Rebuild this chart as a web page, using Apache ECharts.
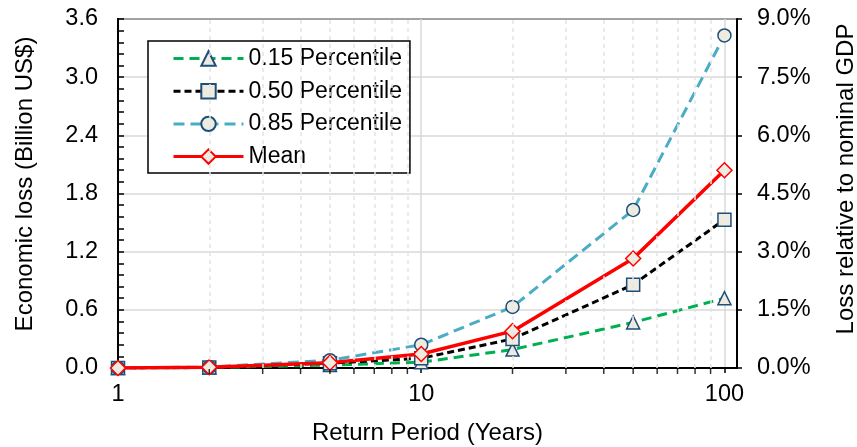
<!DOCTYPE html>
<html>
<head>
<meta charset="utf-8">
<script src="https://cdn.jsdelivr.net/npm/echarts@6/dist/echarts.min.js"></script>
<style>html,body{margin:0;padding:0;background:#fff;}#c{width:857px;height:447px;}</style>
</head>
<body>
<div id="c"></div>
<script>
// Data
const returnPeriods = [1, 2, 5, 10, 20, 50, 100];
const p15 = [0, 0.005, 0.03, 0.06, 0.19, 0.47, 0.72];
const p50 = [0, 0.005, 0.05, 0.10, 0.30, 0.86, 1.53];
const p85 = [0, 0.01, 0.08, 0.24, 0.63, 1.63, 3.43];
const meanLoss = [0, 0.008, 0.055, 0.145, 0.38, 1.13, 2.04];
const seriesNames = ['0.15 Percentile', '0.50 Percentile', '0.85 Percentile', 'Mean'];
const minorXValues = [2, 3, 4, 5, 6, 7, 8, 9, 20, 30, 40, 50, 60, 70, 80, 90];

const FONT = "'Liberation Sans', Arial, sans-serif";
const fill = '#EEECE1';
const markerBorder = '#1F4E79';

function pairs(vals) { return returnPeriods.map((x, i) => [x, vals[i]]); }

const chart = echarts.init(document.getElementById('c'), null, {renderer: 'canvas'});
chart.setOption({
  animation: false,
  backgroundColor: '#fff',
  textStyle: {fontFamily: FONT},
  grid: {left: 118, right: 120, top: 19, bottom: 79, show: true, borderColor: '#000', borderWidth: 2, backgroundColor: 'transparent', outerBoundsMode: 'none', containLabel: false},
  legend: {
    data: seriesNames,
    orient: 'vertical',
    left: 148, top: 41,
    borderColor: '#000', borderWidth: 1.5,
    padding: [6, 8, 5, 24],
    itemWidth: 70, itemHeight: 18, itemGap: 9.7,
    lineStyle: {width: 3},
    textStyle: {fontSize: 23, fontFamily: FONT, color: '#000'},
    backgroundColor: '#fff'
  },
  xAxis: {
    type: 'log', min: 1, max: 110, logBase: 10,
    name: 'Return Period (Years)', nameLocation: 'middle', nameGap: 53,
    nameTextStyle: {fontSize: 24, fontFamily: FONT, color: '#000'},
    axisLine: {lineStyle: {color: '#000', width: 2}},
    axisTick: {show: true, inside: false, length: 5, lineStyle: {color: '#000', width: 1.5}},
    axisLabel: {fontSize: 23.5, fontFamily: FONT, color: '#000', margin: 15, showMaxLabel: false},
    splitLine: {show: true, lineStyle: {color: '#d9d9d9', width: 1.5}},
    minorTick: {show: false}
  },
  yAxis: [{
    type: 'value', min: 0, max: 3.6, interval: 0.6,
    name: 'Economic loss (Billion US$)', nameLocation: 'middle', nameRotate: 90, nameGap: 81,
    nameTextStyle: {fontSize: 24, fontFamily: FONT, color: '#000', padding: [0, 0, 0, 19]},
    axisLine: {show: true, lineStyle: {color: '#000', width: 2}},
    axisTick: {show: true, inside: true, length: 6, lineStyle: {color: '#000', width: 1.5}},
    minorTick: {show: true, splitNumber: 5, length: 6, lineStyle: {color: '#000', width: 1.5}},
    axisLabel: {fontSize: 23.5, fontFamily: FONT, color: '#000', margin: 20, formatter: v => v.toFixed(1)},
    splitLine: {show: true, lineStyle: {color: '#d9d9d9', width: 1.5}}
  }, {
    type: 'value', min: 0, max: 0.09, interval: 0.015, position: 'right',
    name: 'Loss relative to nominal GDP', nameLocation: 'middle', nameRotate: 90, nameGap: 97,
    nameTextStyle: {fontSize: 24, fontFamily: FONT, color: '#000', padding: [0, 0, 0, 29]},
    axisLine: {show: true, lineStyle: {color: '#000', width: 2}},
    axisTick: {show: true, inside: false, length: 5, lineStyle: {color: '#000', width: 1.5}},
    axisLabel: {fontSize: 23.5, fontFamily: FONT, color: '#000', margin: 20, formatter: v => (v * 100).toFixed(1) + '%'},
    splitLine: {show: false}
  }],
  series: [
    {
      type: 'line', data: [], silent: true, z: 1,
      markLine: {
        silent: true, symbol: 'none', label: {show: false}, animation: false,
        lineStyle: {color: '#e3e3e3', width: 1.5, type: [4, 4]},
        data: minorXValues.map(v => ({xAxis: v}))
      }
    },
    {
      type: 'scatter', silent: true, clip: false, z: 5,
      data: minorXValues.map(v => [v, 0]),
      symbol: 'rect', symbolSize: [1.5, 5], symbolOffset: [0, 3.5],
      itemStyle: {color: '#000'}
    },
    {
      name: seriesNames[0], type: 'line', data: pairs(p15), z: 3,
      symbol: 'triangle', symbolSize: 13,
      lineStyle: {color: '#00B050', width: 3, type: [10, 6]},
      itemStyle: {color: fill, borderColor: markerBorder, borderWidth: 1.5}
    },
    {
      name: seriesNames[1], type: 'line', data: pairs(p50), z: 3,
      symbol: 'rect', symbolSize: 13,
      lineStyle: {color: '#000', width: 3, type: [7, 4]},
      itemStyle: {color: fill, borderColor: markerBorder, borderWidth: 1.5}
    },
    {
      name: seriesNames[2], type: 'line', data: pairs(p85), z: 3,
      symbol: 'circle', symbolSize: 13,
      lineStyle: {color: '#4BACC6', width: 3, type: [11, 6]},
      itemStyle: {color: fill, borderColor: markerBorder, borderWidth: 1.5}
    },
    {
      name: seriesNames[3], type: 'line', data: pairs(meanLoss), z: 4,
      symbol: 'diamond', symbolSize: 15,
      lineStyle: {color: '#FF0000', width: 3.5},
      itemStyle: {color: fill, borderColor: '#FF0000', borderWidth: 1.5}
    }
  ]
});
</script>
</body>
</html>
